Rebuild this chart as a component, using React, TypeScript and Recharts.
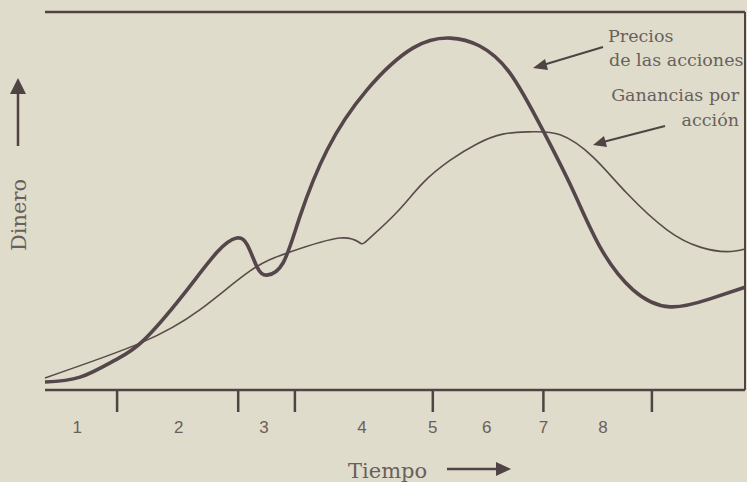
import React from 'react';
import { LineChart, Line, XAxis, YAxis, ReferenceLine } from 'recharts';

// time axis runs 0..100 across the frame, money 0..100 bottom to top
const priceTime = [0, 5, 10, 14, 19.7, 24.6, 27.4, 28.9, 30.3, 31.7, 34, 36.4, 40.3, 46, 52.6, 57.9, 62.1, 66.4, 71.1, 75.4, 79.3, 84, 89.3, 95, 100];
const stockPrice = [2.1, 3.4, 7.9, 13.0, 25.1, 36.5, 40.2, 38.4, 32.5, 30.4, 33.6, 45.8, 63.5, 79.4, 90.5, 93.1, 91.0, 83.9, 68.8, 52.9, 37.8, 26.5, 22.0, 24.1, 27.2];

const epsTime = [0, 13.6, 22.1, 29.3, 35, 42.1, 45, 46.4, 50.3, 54, 57.9, 61.7, 65.4, 69.3, 73.6, 78.3, 83.1, 88.9, 93.6, 97.4, 100];
const earnings = [3.2, 12.4, 21.2, 31.5, 36.5, 40.2, 38.9, 40.2, 47.1, 54.8, 60.8, 65.1, 67.7, 68.3, 67.5, 61.6, 52.1, 42.3, 37.8, 36.6, 37.3];

const tickMarks = [10.3, 27.6, 35.7, 55.4, 71.2, 86.7];
const periodLabels = ['1', '2', '3', '4', '5', '6', '7', '8'];
const periodPositions = [4.6, 19.1, 31.3, 45.3, 55.4, 63.1, 71.2, 79.7];

const priceData = priceTime.map((t, i) => ({ t, value: stockPrice[i] }));
const epsData = epsTime.map((t, i) => ({ t, value: earnings[i] }));
const allTicks = Array.from(new Set([...tickMarks, ...periodPositions])).sort((a, b) => a - b);

const INK = '#4f4343';
const TEXT = '#6a5f5b';
const BG = '#dfdccb';
const SERIF = '"DejaVu Serif", serif';

const TimeTick = (props: any) => {
  const { x, y, payload } = props;
  const v = payload.value;
  const li = periodPositions.indexOf(v);
  return (
    <g>
      {tickMarks.includes(v) && <line x1={x} x2={x} y1={y} y2={y + 22} stroke={INK} strokeWidth={2.5} />}
      {li >= 0 && (
        <text x={x} y={y + 43} textAnchor="middle" fill={TEXT} fontSize={17} fontFamily='"Liberation Sans", sans-serif'>
          {periodLabels[li]}
        </text>
      )}
    </g>
  );
};

export default function App() {
  return (
    <div style={{ position: 'absolute', left: 0, top: 0, width: 747, height: 482, background: BG }}>
      <LineChart width={747} height={482} margin={{ top: 12, right: 2, bottom: 0, left: 45 }}>
        <XAxis
          dataKey="t"
          type="number"
          domain={[0, 100]}
          ticks={allTicks}
          interval={0}
          height={92}
          tickSize={0}
          tickMargin={0}
          tickLine={false}
          tick={<TimeTick />}
          axisLine={{ stroke: INK, strokeWidth: 2.5 }}
          allowDuplicatedCategory={false}
        />
        <YAxis type="number" domain={[0, 100]} width={0} tick={false} tickLine={false} axisLine={{ stroke: INK, strokeWidth: 2.5 }} />
        <ReferenceLine y={100} stroke={INK} strokeWidth={2.5} />
        <ReferenceLine x={100} stroke={INK} strokeWidth={2} />
        <Line data={epsData} type="natural" dataKey="value" stroke="#5a4b4a" strokeWidth={1.6} dot={false} isAnimationActive={false} />
        <Line data={priceData} type="natural" dataKey="value" stroke="#54464a" strokeWidth={3.6} dot={false} isAnimationActive={false} />
      </LineChart>
      <svg width={747} height={482} style={{ position: 'absolute', left: 0, top: 0, pointerEvents: 'none' }}>
        {/* money label and arrow */}
        <text transform="translate(26,215) rotate(-90)" textAnchor="middle" fill={TEXT} fontSize={21} fontFamily={SERIF}>
          Dinero
        </text>
        <line x1={18} y1={146} x2={18} y2={90} stroke={INK} strokeWidth={2.5} />
        <polygon points="18,78 10,94 26,94" fill={INK} />
        {/* time label and arrow */}
        <text x={348} y={478} fill={TEXT} fontSize={21} fontFamily={SERIF}>
          Tiempo
        </text>
        <line x1={447} y1={469} x2={498} y2={469} stroke={INK} strokeWidth={2.5} />
        <polygon points="511,469 496,462 496,476" fill={INK} />
        {/* series annotations */}
        <text x={608} y={42} fill={TEXT} fontSize={17.5} fontFamily={SERIF}>Precios</text>
        <text x={609} y={66} fill={TEXT} fontSize={17.5} fontFamily={SERIF}>de las acciones</text>
        <line x1={603} y1={47} x2={543} y2={65} stroke={INK} strokeWidth={2} />
        <polygon points="533,68 545,59 548,70" fill={INK} />
        <text x={739} y={101} textAnchor="end" fill={TEXT} fontSize={17.5} fontFamily={SERIF}>Ganancias por</text>
        <text x={739} y={126} textAnchor="end" fill={TEXT} fontSize={17.5} fontFamily={SERIF}>acción</text>
        <line x1={665} y1={126} x2={603} y2={142} stroke={INK} strokeWidth={2} />
        <polygon points="593,145 604,136 607,147" fill={INK} />
      </svg>
    </div>
  );
}
